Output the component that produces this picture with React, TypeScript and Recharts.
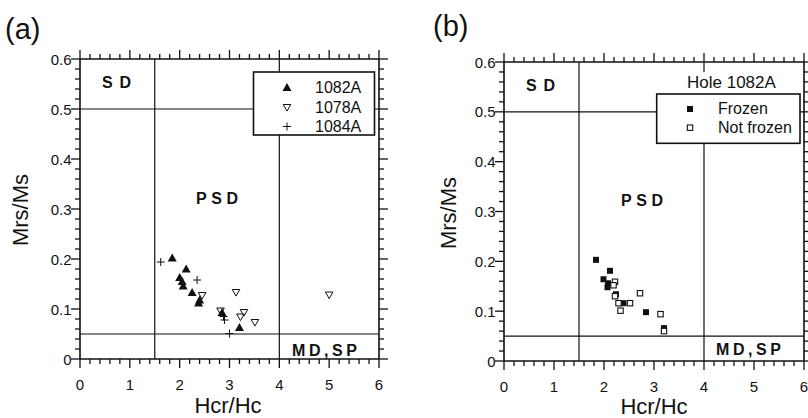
import React from "react";
import { ScatterChart, Scatter, XAxis, YAxis, ReferenceLine } from "recharts";

const INK = "#111";
const FONT = "'Liberation Sans', Arial, Helvetica, sans-serif";

// ticks: majors get a label, minors are short marks
const xTicks = [0, 0.2, 0.4, 0.6, 0.8, 1, 1.2, 1.4, 1.6, 1.8, 2, 2.2, 2.4, 2.6, 2.8, 3, 3.2, 3.4, 3.6, 3.8, 4, 4.2, 4.4, 4.6, 4.8, 5, 5.2, 5.4, 5.6, 5.8, 6];
const yTicks = [0, 0.02, 0.04, 0.06, 0.08, 0.1, 0.12, 0.14, 0.16, 0.18, 0.2, 0.22, 0.24, 0.26, 0.28, 0.3, 0.32, 0.34, 0.36, 0.38, 0.4, 0.42, 0.44, 0.46, 0.48, 0.5, 0.52, 0.54, 0.56, 0.58, 0.6];
const xDomain = [0, 6];
const yDomain = [0, 0.6];

// Day plot boundaries
const hcrBounds = [1.5, 4];
const mrsBounds = [0.05, 0.5];

// (a) by site
const site1082A = [
  { x: 1.85, y: 0.202 }, { x: 2.13, y: 0.18 }, { x: 2.0, y: 0.163 }, { x: 2.05, y: 0.155 },
  { x: 2.07, y: 0.146 }, { x: 2.25, y: 0.133 }, { x: 2.4, y: 0.118 }, { x: 2.38, y: 0.112 },
  { x: 2.85, y: 0.093 }, { x: 3.2, y: 0.063 },
];
const site1078A = [
  { x: 2.45, y: 0.127 }, { x: 2.82, y: 0.096 }, { x: 3.13, y: 0.133 }, { x: 3.29, y: 0.093 },
  { x: 3.22, y: 0.084 }, { x: 3.51, y: 0.073 }, { x: 5.0, y: 0.128 },
];
const site1084A = [
  { x: 1.62, y: 0.194 }, { x: 2.35, y: 0.158 }, { x: 2.88, y: 0.085 }, { x: 2.9, y: 0.078 }, { x: 3.0, y: 0.051 },
];

// (b) hole 1082A
const frozen = [
  { x: 1.84, y: 0.203 }, { x: 2.12, y: 0.181 }, { x: 1.99, y: 0.164 }, { x: 2.08, y: 0.156 },
  { x: 2.07, y: 0.148 }, { x: 2.24, y: 0.134 }, { x: 2.39, y: 0.116 }, { x: 2.84, y: 0.098 }, { x: 3.2, y: 0.066 },
];
const notFrozen = [
  { x: 2.22, y: 0.159 }, { x: 2.19, y: 0.152 }, { x: 2.22, y: 0.13 }, { x: 2.29, y: 0.116 },
  { x: 2.33, y: 0.101 }, { x: 2.52, y: 0.116 }, { x: 2.72, y: 0.136 }, { x: 3.13, y: 0.094 }, { x: 3.2, y: 0.06 },
];

const isMajorX = (v: number) => Math.abs(v - Math.round(v)) < 1e-6;
const isMajorY = (v: number) => Math.abs(v * 10 - Math.round(v * 10)) < 1e-6;
const yLabel = (v: number) => (v === 0 ? "0" : v.toFixed(1));

// data units per screen pixel (plot is ~300px square)
const X_PX = 6 / 300;
const Y_PX = 0.6 / 300;
const tickLen = (major: boolean) => (major ? 9 : 5);

// axis labels only; tickSize/tickMargin 0 so (x, y) sits on the frame
const BottomLabel = ({ x, y, payload }: any) =>
  isMajorX(payload.value) ? (
    <text x={x} y={y + 31} textAnchor="middle" fontSize={15} fill={INK} fontFamily={FONT}>
      {payload.value}
    </text>
  ) : (
    <g />
  );
const LeftLabel = ({ x, y, payload }: any) =>
  isMajorY(payload.value) ? (
    <text x={x - 8.5} y={y + 5.5} textAnchor="end" fontSize={15} fill={INK} fontFamily={FONT}>
      {yLabel(payload.value)}
    </text>
  ) : (
    <g />
  );

// frame box + outward tick marks on all four sides
function frameMarks() {
  const s = { stroke: INK, strokeWidth: 1.3, ifOverflow: "visible" as const, xAxisId: "b", yAxisId: "l" };
  return [
    <ReferenceLine key="f-l" {...s} x={xDomain[0]} strokeWidth={1.6} />,
    <ReferenceLine key="f-r" {...s} x={xDomain[1]} strokeWidth={1.6} />,
    <ReferenceLine key="f-b" {...s} y={yDomain[0]} strokeWidth={1.6} />,
    <ReferenceLine key="f-t" {...s} y={yDomain[1]} strokeWidth={1.6} />,
    ...xTicks.map((v) => (
      <ReferenceLine key={"tb" + v} {...s}
        segment={[{ x: v, y: yDomain[0] }, { x: v, y: yDomain[0] - tickLen(isMajorX(v)) * Y_PX }]} />
    )),
    ...xTicks.map((v) => (
      <ReferenceLine key={"tt" + v} {...s}
        segment={[{ x: v, y: yDomain[1] }, { x: v, y: yDomain[1] + tickLen(isMajorX(v)) * Y_PX }]} />
    )),
    ...yTicks.map((v) => (
      <ReferenceLine key={"tl" + v} {...s}
        segment={[{ x: xDomain[0], y: v }, { x: xDomain[0] - tickLen(isMajorY(v)) * X_PX, y: v }]} />
    )),
    ...yTicks.map((v) => (
      <ReferenceLine key={"tr" + v} {...s}
        segment={[{ x: xDomain[1], y: v }, { x: xDomain[1] + tickLen(isMajorY(v)) * X_PX, y: v }]} />
    )),
  ];
}

function boundaryLines() {
  return [
    ...hcrBounds.map((v) => (
      <ReferenceLine key={"hx" + v} xAxisId="b" yAxisId="l" x={v} stroke={INK} strokeWidth={1.2} />
    )),
    ...mrsBounds.map((v) => (
      <ReferenceLine key={"my" + v} xAxisId="b" yAxisId="l" y={v} stroke={INK} strokeWidth={1.2} />
    )),
  ];
}

const TriUp = ({ cx, cy }: any) => (
  <path d={`M${cx},${cy - 4.5} L${cx + 4.5},${cy + 3.5} L${cx - 4.5},${cy + 3.5} Z`} fill={INK} />
);
const TriDown = ({ cx, cy }: any) => (
  <path d={`M${cx - 3.8},${cy - 3} L${cx + 3.8},${cy - 3} L${cx},${cy + 3.6} Z`} fill="none" stroke={INK} strokeWidth={1} />
);
const Plus = ({ cx, cy }: any) => (
  <path d={`M${cx - 4},${cy} H${cx + 4} M${cx},${cy - 4} V${cy + 4}`} stroke={INK} strokeWidth={1} />
);
const SqFilled = ({ cx, cy }: any) => <rect x={cx - 3} y={cy - 3} width={6} height={6} fill={INK} />;
const SqOpen = ({ cx, cy }: any) => (
  <rect x={cx - 2.7} y={cy - 2.7} width={5.4} height={5.4} fill="#fff" stroke={INK} strokeWidth={1.1} />
);

const regionStyle = { fontSize: 16, fontWeight: 700, fill: INK, fontFamily: FONT } as const;
const plainStyle = { fill: INK, fontFamily: FONT } as const;

export default function App() {
  return (
    <div style={{ position: "absolute", left: 0, top: 0, width: 808, height: 418, background: "#fff" }}>
      {/* (a) */}
      <div style={{ position: "absolute", left: 0, top: 0, width: 400, height: 418 }}>
        <ScatterChart id="panelA" width={400} height={418} margin={{ top: 59, right: 21, bottom: 19, left: 30 }}>
          <XAxis xAxisId="b" type="number" dataKey="x" domain={xDomain} ticks={xTicks} interval={0}
            orientation="bottom" height={40} tickSize={0} tickMargin={0} tickLine={false} axisLine={false}
            tick={BottomLabel} allowDataOverflow />
          <YAxis yAxisId="l" type="number" dataKey="y" domain={yDomain} ticks={yTicks} interval={0}
            orientation="left" width={50} tickSize={0} tickMargin={0} tickLine={false} axisLine={false}
            tick={LeftLabel} allowDataOverflow />
          {frameMarks()}
          {boundaryLines()}
          <Scatter xAxisId="b" yAxisId="l" data={site1082A} shape={TriUp} isAnimationActive={false} />
          <Scatter xAxisId="b" yAxisId="l" data={site1078A} shape={TriDown} isAnimationActive={false} />
          <Scatter xAxisId="b" yAxisId="l" data={site1084A} shape={Plus} isAnimationActive={false} />
        </ScatterChart>
        <svg width={400} height={418} style={{ position: "absolute", left: 0, top: 0, pointerEvents: "none" }}>
          <text x={5} y={39} fontSize={29} {...plainStyle}>(a)</text>
          <text transform="translate(28,210) rotate(-90)" textAnchor="middle" fontSize={22} {...plainStyle}>Mrs/Ms</text>
          <text x={228} y={413} textAnchor="middle" fontSize={22} {...plainStyle}>Hcr/Hc</text>
          <text x={102} y={88} textLength={29} lengthAdjust="spacing" {...regionStyle}>SD</text>
          <text x={196} y={204} textLength={42} lengthAdjust="spacing" {...regionStyle}>PSD</text>
          <text x={292} y={355.5} textLength={65} lengthAdjust="spacing" {...regionStyle}>MD,SP</text>
          <rect x={253.5} y={72} width={121} height={63} fill="#fff" stroke={INK} strokeWidth={1.6} />
          <TriUp cx={287} cy={87.5} />
          <TriDown cx={287} cy={107.5} />
          <Plus cx={287} cy={126.5} />
          <text x={315} y={93.3} fontSize={16} {...plainStyle}>1082A</text>
          <text x={315} y={113.3} fontSize={16} {...plainStyle}>1078A</text>
          <text x={315} y={131.7} fontSize={16} {...plainStyle}>1084A</text>
        </svg>
      </div>

      {/* (b) */}
      <div style={{ position: "absolute", left: 400, top: 0, width: 408, height: 418 }}>
        <ScatterChart id="panelB" width={408} height={418} margin={{ top: 62, right: 4, bottom: 17, left: 54 }}>
          <XAxis xAxisId="b" type="number" dataKey="x" domain={xDomain} ticks={xTicks} interval={0}
            orientation="bottom" height={40} tickSize={0} tickMargin={0} tickLine={false} axisLine={false}
            tick={BottomLabel} allowDataOverflow />
          <YAxis yAxisId="l" type="number" dataKey="y" domain={yDomain} ticks={yTicks} interval={0}
            orientation="left" width={50} tickSize={0} tickMargin={0} tickLine={false} axisLine={false}
            tick={LeftLabel} allowDataOverflow />
          {frameMarks()}
          {boundaryLines()}
          <Scatter xAxisId="b" yAxisId="l" data={frozen} shape={SqFilled} isAnimationActive={false} />
          <Scatter xAxisId="b" yAxisId="l" data={notFrozen} shape={SqOpen} isAnimationActive={false} />
        </ScatterChart>
        <svg width={408} height={418} style={{ position: "absolute", left: 0, top: 0, pointerEvents: "none" }}>
          <text x={33} y={36} fontSize={29} {...plainStyle}>(b)</text>
          <text transform="translate(56,213) rotate(-90)" textAnchor="middle" fontSize={22} {...plainStyle}>Mrs/Ms</text>
          <text x={254} y={414} textAnchor="middle" fontSize={22} {...plainStyle}>Hcr/Hc</text>
          <text x={126} y={90.5} textLength={29} lengthAdjust="spacing" {...regionStyle}>SD</text>
          <text x={221} y={206} textLength={42} lengthAdjust="spacing" {...regionStyle}>PSD</text>
          <text x={316} y={355} textLength={65} lengthAdjust="spacing" {...regionStyle}>MD,SP</text>
          <rect x={284} y={72} width={112} height={22} fill="#fff" />
          <text x={287} y={87.5} fontSize={17} {...plainStyle}>Hole 1082A</text>
          <rect x={256.7} y={94} width={143.3} height={49.3} fill="#fff" stroke={INK} strokeWidth={1.6} />
          <SqFilled cx={290} cy={109} />
          <SqOpen cx={290} cy={127.7} />
          <text x={318} y={114.3} fontSize={16} {...plainStyle}>Frozen</text>
          <text x={318} y={132.7} fontSize={16} {...plainStyle}>Not frozen</text>
        </svg>
      </div>
    </div>
  );
}
